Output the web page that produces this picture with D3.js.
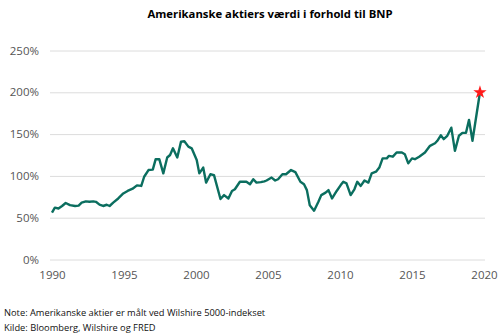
<!DOCTYPE html>
<html><head><meta charset="utf-8">
<script src="https://cdn.jsdelivr.net/npm/d3@7"></script>
<style>body{margin:0;background:#fff}svg{display:block}</style>
</head><body>
<svg id="c" width="500" height="334"></svg>
<script>
const title = "Amerikanske aktiers værdi i forhold til BNP";
const note = "Note: Amerikanske aktier er målt ved Wilshire 5000-indekset";
const source = "Kilde: Bloomberg, Wilshire og FRED";
const yTicks = [0, 50, 100, 150, 200, 250];
const xTicks = [1990, 1995, 2000, 2005, 2010, 2015, 2020];
const years = [1990.0,1990.2,1990.45,1990.7,1990.95,1991.25,1991.6,1991.85,1992.06,1992.35,1992.6,1992.87,1993.05,1993.3,1993.55,1993.8,1994.0,1994.25,1994.6,1994.95,1995.25,1995.6,1995.9,1996.2,1996.4,1996.7,1997.0,1997.2,1997.45,1997.73,1998.0,1998.2,1998.4,1998.7,1998.96,1999.19,1999.47,1999.7,2000.05,2000.23,2000.5,2000.7,2001.0,2001.25,2001.7,2001.95,2002.25,2002.5,2002.7,2003.05,2003.5,2003.75,2003.98,2004.2,2004.5,2004.75,2004.9,2005.25,2005.5,2005.7,2006.0,2006.25,2006.6,2006.9,2007.25,2007.5,2007.7,2007.9,2008.2,2008.5,2008.7,2009.0,2009.2,2009.45,2009.77,2010.05,2010.23,2010.45,2010.74,2011.0,2011.2,2011.44,2011.7,2011.97,2012.2,2012.5,2012.73,2012.96,2013.25,2013.4,2013.67,2013.93,2014.3,2014.5,2014.74,2015.0,2015.2,2015.5,2015.9,2016.25,2016.6,2016.76,2017.0,2017.2,2017.45,2017.73,2017.98,2018.26,2018.5,2018.75,2018.96,2019.2,2019.72];
const values = [56,62,61,64,67.6,65,64,64.5,68,69.5,69,69.5,69,65.6,64,65.5,64,68,73,79,82,84.7,88.7,88,99,107,107.5,120,120,103,122,125,133,122,141,141.5,135,133,119,103,110,92,102,101,72.4,77,73,82,84,93,93,90,96,92,92.5,93.5,94.5,98,94.5,96,102,102,107,104.5,93,90,83,65,58.4,69,77,80,83,73,82,89,93,91,77,84,93,88,94.5,92,103,105,110,121,121,124,123,128,128,126,115,121,120,123,128,136,139,142,148.5,144,148,157.7,130,148,151.5,151.5,167,142,200];

const svg = d3.select("#c");
const x = d3.scaleLinear().domain([1990, 2020]).range([52, 484]);
const y = d3.scaleLinear().domain([0, 250]).range([259.5, 50.5]);

svg.append("text").attr("x", 270).attr("y", 17.5).attr("text-anchor", "middle")
  .attr("font-family", "Open Sans").attr("font-weight", "bold").attr("font-size", 11.3)
  .attr("fill", "#000").text(title);

const gy = svg.append("g").attr("transform", "translate(50,0)")
  .call(d3.axisLeft(y).tickValues(yTicks).tickSize(-435).tickFormat(d => d + "%").tickPadding(11));
gy.select(".domain").remove();
gy.selectAll("line").attr("stroke", "#dcdcdc").attr("stroke-width", 1);
gy.selectAll("text").attr("font-family", "Open Sans").attr("font-size", 11.5).attr("fill", "#555");

const gx = svg.append("g").attr("transform", "translate(0,265)")
  .call(d3.axisBottom(x).tickValues(xTicks).tickSize(0).tickFormat(d3.format("d")).tickPadding(6));
gx.select(".domain").remove();
gx.selectAll("text").attr("font-family", "Open Sans").attr("font-size", 11.5).attr("fill", "#555");

const data = years.map((yr, i) => ({yr, v: values[i]}));
svg.append("path").datum(data)
  .attr("fill", "none").attr("stroke", "#0b6e5f").attr("stroke-width", 2.4)
  .attr("stroke-linejoin", "round")
  .attr("d", d3.line().x(d => x(d.yr)).y(d => y(d.v)));

const last = data[data.length - 1];
svg.append("path").attr("d", d3.symbol(d3.symbolStar, 55)())
  .attr("transform", `translate(${x(last.yr)},${y(last.v)})`).attr("fill", "#ff1a1a");

svg.append("text").attr("x", 4).attr("y", 316).attr("font-family", "Open Sans")
  .attr("font-size", 9.3).attr("fill", "#111").text(note);
svg.append("text").attr("x", 4).attr("y", 331).attr("font-family", "Open Sans")
  .attr("font-size", 9.3).attr("fill", "#111").text(source);
</script>
</body></html>
